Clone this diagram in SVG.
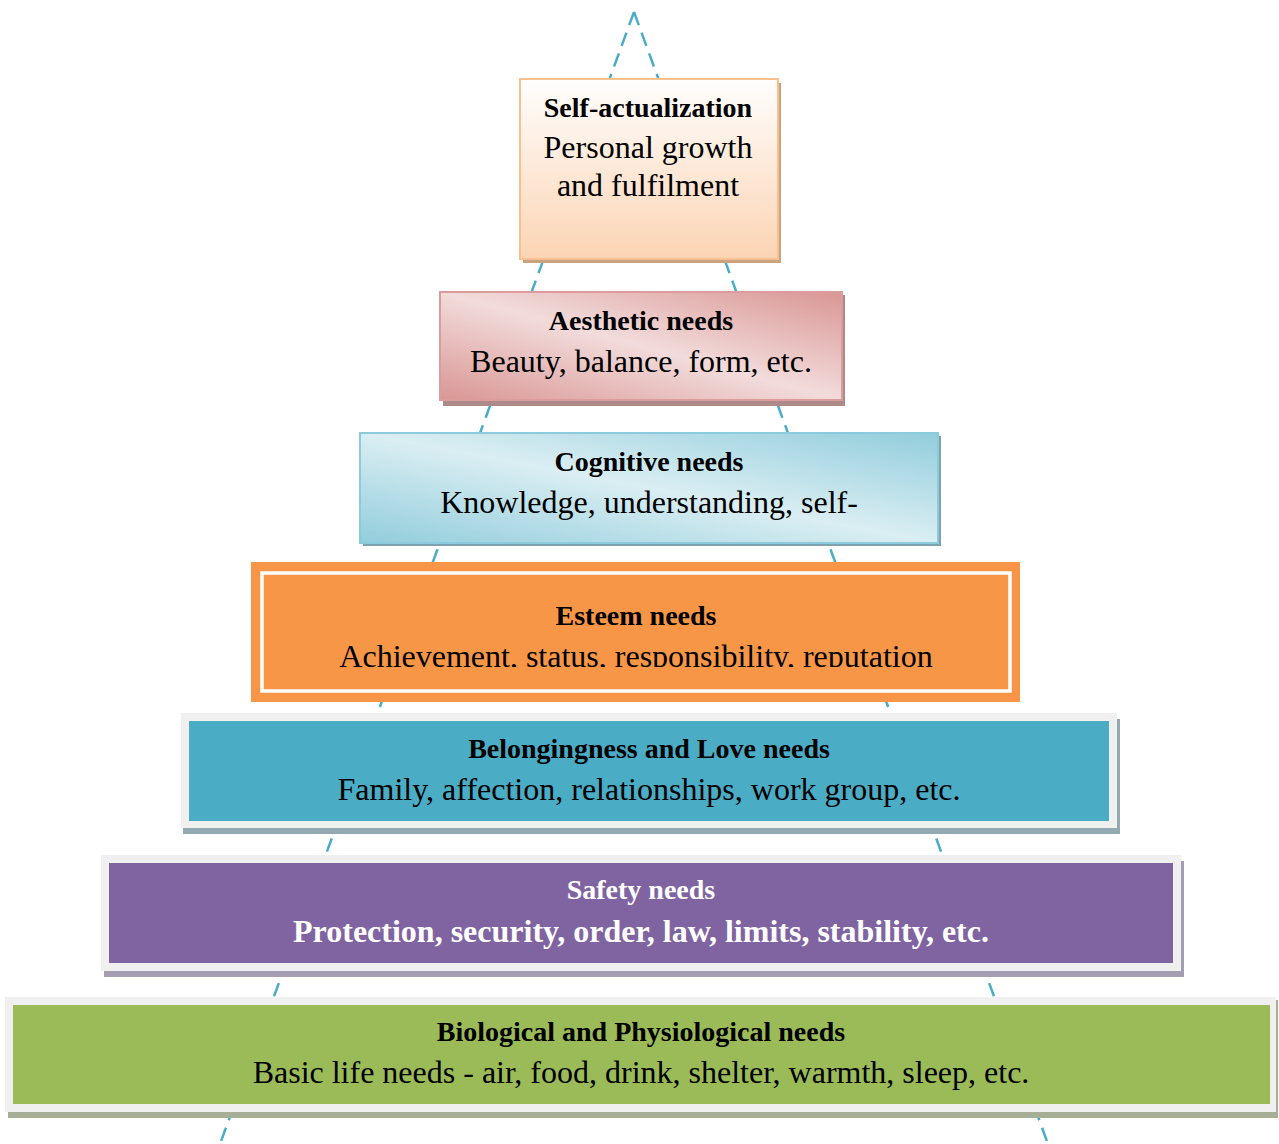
<svg xmlns="http://www.w3.org/2000/svg" width="1279" height="1144" viewBox="0 0 1279 1144">
  <style>
    text { font-family: "Liberation Serif", "Times New Roman", serif; text-anchor: middle; fill: #000; }
    .title { font-size: 28px; font-weight: bold; }
    .body { font-size: 32px; }
    .light { fill: #ffffff; }
    .guide { fill: none; stroke: #4bacc6; stroke-width: 2.5; stroke-dasharray: 14 8; }
    .frame { fill: #f0f0f0; }
  </style>
  <defs>
    <linearGradient id="gPeach" x1="0" y1="0" x2="0" y2="1">
      <stop offset="0" stop-color="#fffefd"/>
      <stop offset="1" stop-color="#fbd4b3"/>
    </linearGradient>
    <linearGradient id="gRose" x1="0" y1="1" x2="1" y2="0">
      <stop offset="0" stop-color="#d99694"/>
      <stop offset="0.5" stop-color="#f2dcdb"/>
      <stop offset="1" stop-color="#d99694"/>
    </linearGradient>
    <linearGradient id="gSky" x1="0" y1="1" x2="1" y2="0">
      <stop offset="0" stop-color="#92cddc"/>
      <stop offset="0.5" stop-color="#daeef3"/>
      <stop offset="1" stop-color="#92cddc"/>
    </linearGradient>
    <clipPath id="esteemClip">
      <rect x="252" y="562" width="768" height="105"/>
    </clipPath>
  </defs>

  <!-- dashed pyramid outline behind the levels -->
  <g id="connectors">
    <path class="guide" d="M634 12 L220 1144"/>
    <path class="guide" d="M634 12 L1048 1144"/>
  </g>

  <!-- bottom level -->
  <g id="biological">
    <rect x="8" y="1000" width="1270" height="118" fill="#a7ae96"/>
    <rect class="frame" x="5" y="997" width="1271" height="115"/>
    <rect x="13" y="1005" width="1257" height="99" fill="#9bbb59"/>
    <text class="title" x="641" y="1041">Biological and Physiological needs</text>
    <text class="body" x="641" y="1083">Basic life needs - air, food, drink, shelter, warmth, sleep, etc.</text>
  </g>

  <g id="safety">
    <rect x="104" y="861" width="1080" height="116" fill="#a59eb3"/>
    <rect class="frame" x="101" y="855" width="1080" height="116"/>
    <rect x="109" y="863" width="1064" height="100" fill="#8064a2"/>
    <text class="title light" x="641" y="899">Safety needs</text>
    <text class="body light" x="641" y="942" font-weight="bold">Protection, security, order, law, limits, stability, etc.</text>
  </g>

  <g id="belonging">
    <rect x="183" y="719" width="937" height="115" fill="#93a9b2"/>
    <rect class="frame" x="181" y="713" width="936" height="115"/>
    <rect x="189" y="721" width="920" height="100" fill="#4bacc6"/>
    <text class="title" x="649" y="758">Belongingness and Love needs</text>
    <text class="body" x="649" y="800">Family, affection, relationships, work group, etc.</text>
  </g>

  <g id="esteem">
    <rect x="251" y="562" width="769" height="140" fill="#f79646"/>
    <rect x="262" y="573" width="748" height="118" fill="none" stroke="#ffffff" stroke-width="3.5"/>
    <text class="title" x="636" y="625">Esteem needs</text>
    <text class="body" x="636" y="667" clip-path="url(#esteemClip)">Achievement, status, responsibility, reputation</text>
  </g>

  <g id="cognitive">
    <rect x="363" y="436" width="578" height="110" fill="#7fa3ae"/>
    <rect x="360" y="433" width="578" height="110" fill="url(#gSky)" stroke="#8ccbdb" stroke-width="2"/>
    <text class="title" x="649" y="471">Cognitive needs</text>
    <text class="body" x="649" y="513">Knowledge, understanding, self-</text>
  </g>

  <g id="aesthetic">
    <rect x="443" y="295" width="402" height="111" fill="#ad8989"/>
    <rect x="440" y="292" width="402" height="108" fill="url(#gRose)" stroke="#dc9c9b" stroke-width="2"/>
    <text class="title" x="641" y="330">Aesthetic needs</text>
    <text class="body" x="641" y="372">Beauty, balance, form, etc.</text>
  </g>

  <g id="self-actualization">
    <rect x="523" y="83" width="258" height="180" fill="#c9a27f"/>
    <rect x="520" y="79" width="258" height="180" fill="url(#gPeach)" stroke="#fac08f" stroke-width="2"/>
    <text class="title" x="648" y="117">Self-actualization</text>
    <text class="body" x="648" y="158">Personal growth</text>
    <text class="body" x="648" y="196">and fulfilment</text>
  </g>
</svg>
